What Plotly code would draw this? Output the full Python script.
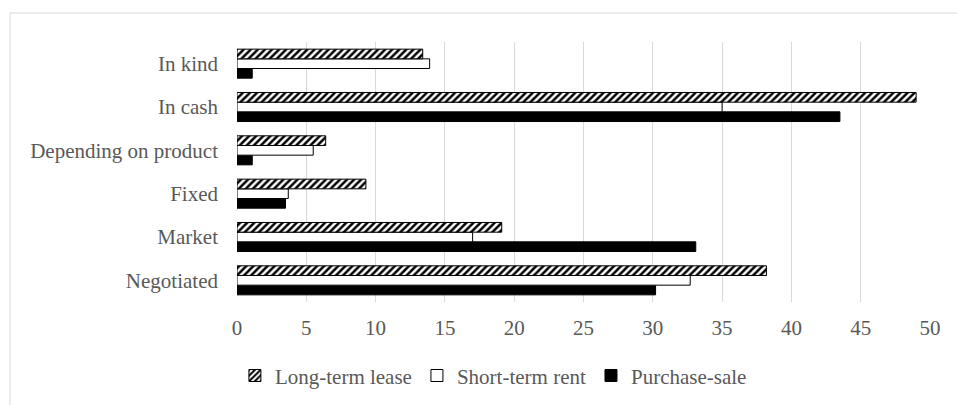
import plotly.graph_objects as go

# Payment / price-setting categories (bottom to top on the y axis)
categories = ["Negotiated", "Market", "Fixed", "Depending on product", "In cash", "In kind"]

# Share of contracts per arrangement type
long_term_lease = [38.2, 19.1, 9.3, 6.4, 49.0, 13.4]
short_term_rent = [32.7, 17.0, 3.7, 5.5, 35.0, 13.9]
purchase_sale = [30.2, 33.1, 3.5, 1.1, 43.5, 1.1]

x_ticks = [0, 5, 10, 15, 20, 25, 30, 35, 40, 45, 50]

FONT = "Liberation Serif"
TEXT_GREY = "#595959"
GRID_GREY = "#d9d9d9"
FS = 21

fig = go.Figure()

# Trace order runs bottom-to-top inside each group
fig.add_trace(go.Bar(
    y=categories, x=purchase_sale, orientation="h", name="Purchase-sale",
    marker=dict(color="black", line=dict(color="black", width=1)),
))
fig.add_trace(go.Bar(
    y=categories, x=short_term_rent, orientation="h", name="Short-term rent",
    marker=dict(color="white", line=dict(color="black", width=1)),
))
fig.add_trace(go.Bar(
    y=categories, x=long_term_lease, orientation="h", name="Long-term lease",
    marker=dict(
        color="white",
        line=dict(color="black", width=1),
        pattern=dict(shape="/", fgcolor="black", bgcolor="white", size=5, solidity=0.5),
    ),
))

fig.update_layout(
    template="none",
    width=957, height=405,
    margin=dict(l=237, r=27, t=42, b=103, autoexpand=False),
    paper_bgcolor="white", plot_bgcolor="white",
    barmode="group", bargap=0.33, bargroupgap=0,
    font=dict(family=FONT, size=FS, color=TEXT_GREY),
    showlegend=True,
    legend=dict(
        orientation="h", traceorder="reversed",
        x=0.37, xanchor="center", y=-0.284, yanchor="middle",
        font=dict(family=FONT, size=FS, color=TEXT_GREY),
        itemwidth=30, bgcolor="rgba(0,0,0,0)", borderwidth=0,
    ),
    shapes=[dict(
        type="rect", xref="paper", yref="paper",
        x0=-0.3276, x1=1.2, y0=-0.6, y1=1.1115,
        line=dict(color=GRID_GREY, width=1), fillcolor="rgba(0,0,0,0)", layer="below",
    )],
)

fig.update_xaxes(
    range=[0, 50], tickvals=x_ticks, ticktext=[str(t) for t in x_ticks],
    showgrid=True, gridcolor=GRID_GREY, gridwidth=1,
    zeroline=False, showline=False, ticks="", ticklabelstandoff=11,
    tickfont=dict(family=FONT, size=FS, color=TEXT_GREY), fixedrange=True,
)
fig.update_yaxes(
    categoryorder="array", categoryarray=categories,
    showgrid=False, zeroline=False, showline=False, ticks="",
    ticklabelstandoff=18,
    tickfont=dict(family=FONT, size=FS, color=TEXT_GREY), fixedrange=True,
)

fig.write_html("out.html")
